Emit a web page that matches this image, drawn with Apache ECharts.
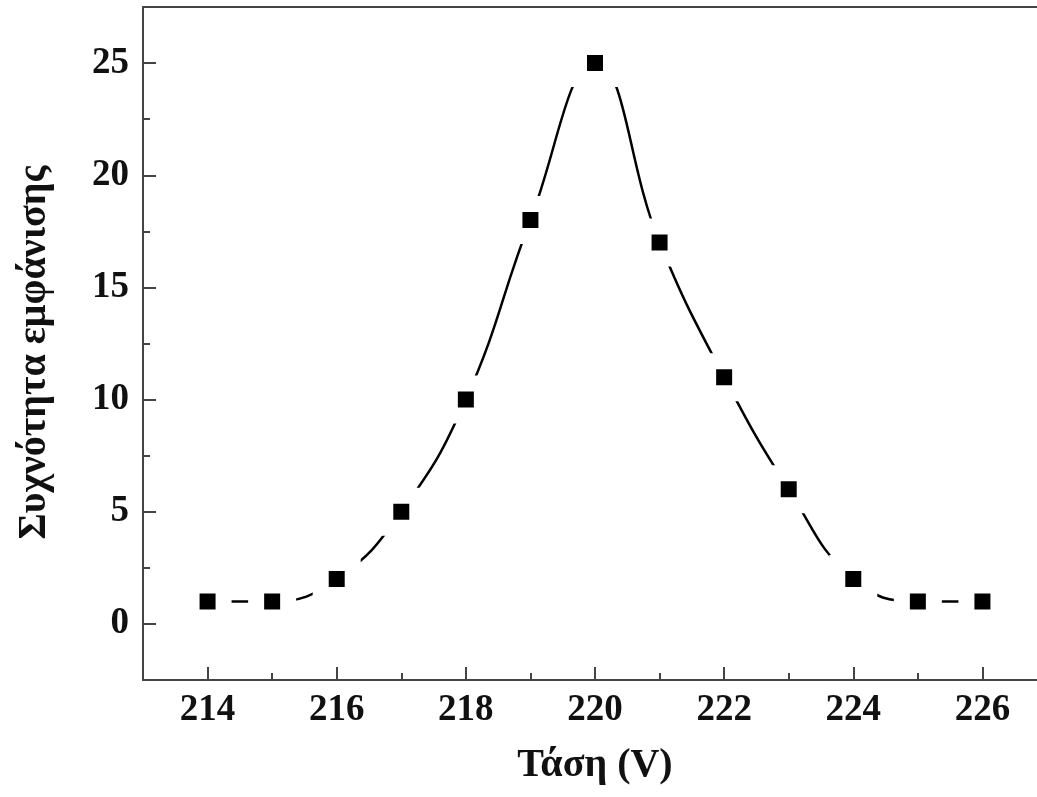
<!DOCTYPE html>
<html>
<head>
<meta charset="utf-8">
<script src="https://cdn.jsdelivr.net/npm/echarts@6/dist/echarts.min.js"></script>
<style>html,body{margin:0;padding:0;background:#fff;}#c{width:1037px;height:797px;}</style>
</head>
<body>
<div id="c"></div>
<script>
const voltages = [214, 215, 216, 217, 218, 219, 220, 221, 222, 223, 224, 225, 226];
const frequency = [1, 1, 2, 5, 10, 18, 25, 17, 11, 6, 2, 1, 1];
const xMajorTicks = [214, 216, 218, 220, 222, 224, 226];
const xMinorTicks = [215, 217, 219, 221, 223, 225];
const yMajorTicks = [0, 5, 10, 15, 20, 25];
const yMinorTicks = [2.5, 7.5, 12.5, 17.5, 22.5];
const xTitle = 'Τάση (V)';
const yTitle = 'Συχνότητα εμφάνισης';

const FONT = '"Liberation Serif", "Times New Roman", serif';
const AX = '#444';
const chart = echarts.init(document.getElementById('c'), null, {renderer: 'canvas'});
const baseX = {
  type: 'value', min: 213, max: 227, interval: 1, position: 'bottom',
  splitLine: {show: false}
};
const baseY = {
  type: 'value', min: -2.5, max: 27.5, interval: 2.5, position: 'left',
  splitLine: {show: false}
};
chart.setOption({
  animation: false,
  backgroundColor: '#fff',
  grid: {left: 143, top: 7, width: 904, height: 673, show: false,
         outerBoundsMode: 'none', containLabel: false},
  xAxis: [
    Object.assign({}, baseX, {
      name: xTitle, nameLocation: 'middle', nameGap: 66,
      nameTextStyle: {fontFamily: FONT, fontWeight: 'bold', fontSize: 40, color: '#111'},
      axisLine: {show: true, onZero: false, lineStyle: {color: AX, width: 2}},
      axisTick: {show: true, inside: true, length: 13, lineStyle: {color: AX, width: 2}, customValues: xMajorTicks},
      axisLabel: {show: true, margin: 12, fontFamily: FONT, fontWeight: 'bold', fontSize: 37, color: '#111', customValues: xMajorTicks}
    }),
    Object.assign({}, baseX, {
      axisLine: {show: false, onZero: false},
      axisTick: {show: true, inside: true, length: 7, lineStyle: {color: AX, width: 2}, customValues: xMinorTicks},
      axisLabel: {show: false}
    }),
    Object.assign({}, baseX, {
      position: 'top',
      axisLine: {show: true, onZero: false, lineStyle: {color: AX, width: 2}},
      axisTick: {show: false},
      axisLabel: {show: false}
    })
  ],
  yAxis: [
    Object.assign({}, baseY, {
      name: yTitle, nameLocation: 'middle', nameGap: 88, nameRotate: 90,
      nameTextStyle: {fontFamily: FONT, fontWeight: 'bold', fontSize: 40, color: '#111', padding: [0, 18, 0, 0]},
      axisLine: {show: true, onZero: false, lineStyle: {color: AX, width: 2}},
      axisTick: {show: true, inside: true, length: 13, lineStyle: {color: AX, width: 2}, customValues: yMajorTicks},
      axisLabel: {show: true, margin: 14, fontFamily: FONT, fontWeight: 'bold', fontSize: 37, color: '#111', customValues: yMajorTicks}
    }),
    Object.assign({}, baseY, {
      axisLine: {show: false, onZero: false},
      axisTick: {show: true, inside: true, length: 7, lineStyle: {color: AX, width: 2}, customValues: yMinorTicks},
      axisLabel: {show: false}
    })
  ],
  series: [{
    type: 'line',
    xAxisIndex: 0, yAxisIndex: 0,
    data: voltages.map((v, i) => [v, frequency[i]]),
    smooth: 0.45,
    symbol: 'rect',
    symbolSize: 32,
    lineStyle: {color: '#000', width: 2.5},
    itemStyle: {color: '#000', borderColor: '#fff', borderWidth: 16},
    showSymbol: true
  }]
});
</script>
</body>
</html>
